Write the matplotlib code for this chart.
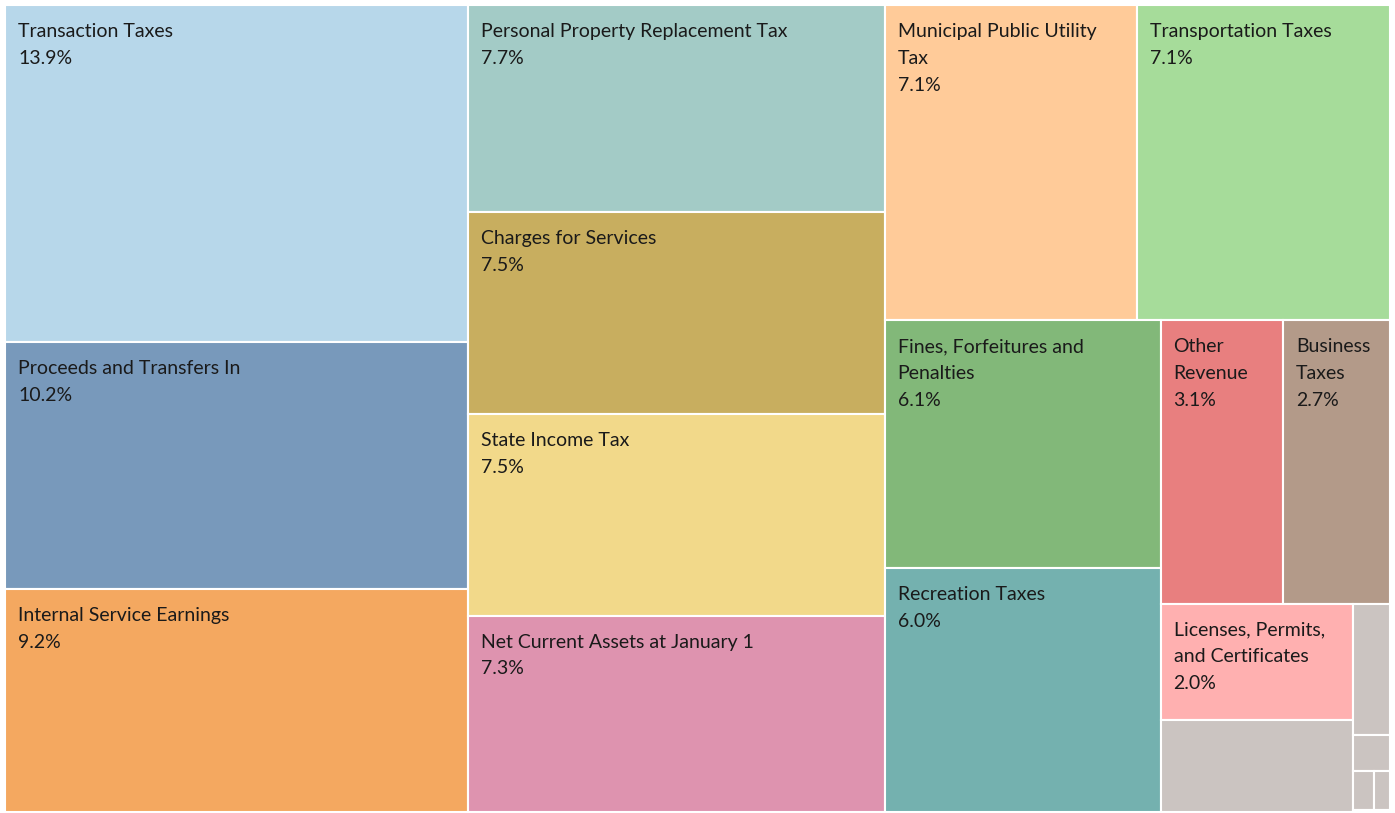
import matplotlib
matplotlib.use("Agg")
import matplotlib.pyplot as plt
from matplotlib.patches import Rectangle

# data (share of total revenue, %)
labels = [
    "Transaction Taxes", "Proceeds and Transfers In", "Internal Service Earnings",
    "Personal Property Replacement Tax", "Charges for Services", "State Income Tax",
    "Net Current Assets at January 1", "Municipal Public Utility\nTax", "Transportation Taxes",
    "Fines, Forfeitures and\nPenalties", "Recreation Taxes", "Other\nRevenue", "Business\nTaxes",
    "Licenses, Permits,\nand Certificates", "", "", "", "", "", "",
]
values = [13.9, 10.2, 9.2, 7.7, 7.5, 7.5, 7.3, 7.1, 7.1, 6.1, 6.0, 3.1, 2.7, 2.0,
          1.58, 0.43, 0.12, 0.07, 0.056, 0.007]
colors = ["#B7D7EA", "#7899BB", "#F4A860", "#A3CBC6", "#C8AE5F", "#F2D98A", "#DE93AF",
          "#FFCB99", "#A6DC9A", "#82B879", "#74B1AF", "#E87F7F", "#B39A89", "#FFB0B0",
          "#CBC4C1", "#CBC4C1", "#CBC4C1", "#CBC4C1", "#CBC4C1", "#CBC4C1"]


def worst(row, side):
    s = sum(row)
    return max(max(side * side * r / (s * s), s * s / (side * side * r)) for r in row)


def treemap(sizes, x, y, w, h, tol=2.75):
    """Strip layout: fill along the short side, keep adding while shapes stay acceptable."""
    rects = []
    i = 0
    while i < len(sizes):
        side = min(w, h)
        row = [sizes[i]]
        j = i + 1
        while j < len(sizes):
            new = worst(row + [sizes[j]], side)
            if new <= max(worst(row, side), tol):
                row.append(sizes[j])
                j += 1
            else:
                break
        s = sum(row)
        if w >= h:
            cw = s / h
            yy = y
            for r in row:
                rects.append((x, yy, cw, r / cw))
                yy += r / cw
            x += cw
            w -= cw
        else:
            rh = s / w
            xx = x
            for r in row:
                rects.append((xx, y, r / rh, rh))
                xx += r / rh
            y += rh
            h -= rh
        i = j
    return rects


W, H = 1385, 807
total = sum(values)
areas = [v / total * W * H for v in values]
rects = treemap(areas, 0, 0, W, H)

fig = plt.figure(figsize=(13.95, 8.13), dpi=100)
ax = fig.add_axes([5 / 1395, 1 / 813, W / 1395, H / 813])
ax.set_xlim(0, W)
ax.set_ylim(H, 0)
ax.axis("off")

for (rx, ry, rw, rh), lab, val, col in zip(rects, labels, values, colors):
    ax.add_patch(Rectangle((rx, ry), rw, rh, facecolor=col, edgecolor="white", linewidth=1.5))
    if lab:
        ax.text(rx + 13, ry + 18, f"{lab}\n{val:.1f}%", ha="left", va="top",
                fontsize=14, family="Lato", color="#1a1a1a", linespacing=1.7)

fig.savefig("out.png", dpi=100)
